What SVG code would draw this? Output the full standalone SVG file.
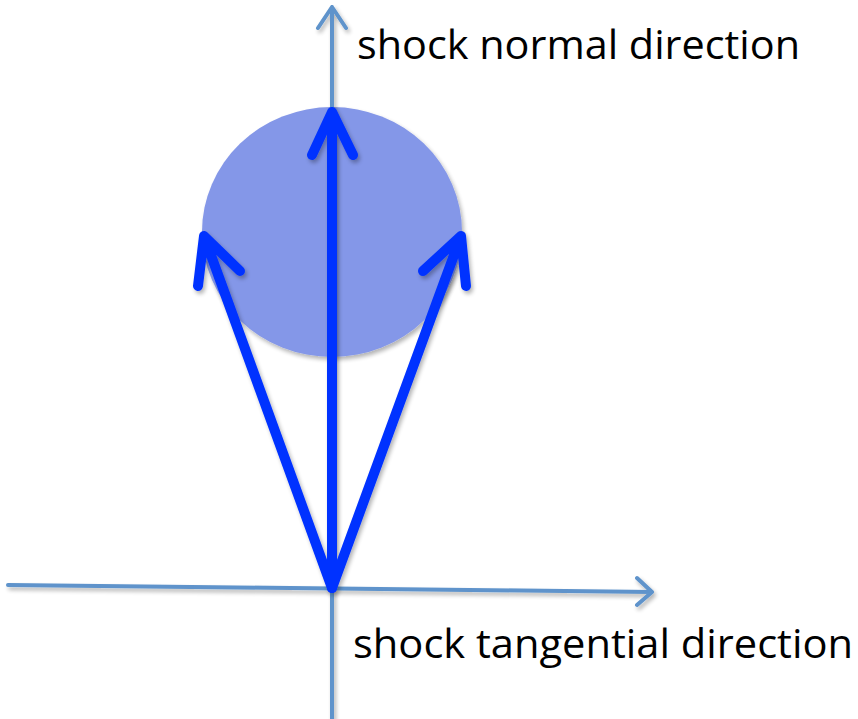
<svg xmlns="http://www.w3.org/2000/svg" width="858" height="719" viewBox="0 0 858 719">
<defs>
<style>
.axis{fill:none;stroke:#5E93CB;stroke-width:4;stroke-linecap:round;stroke-linejoin:round}
.vec{fill:none;stroke:#0433FF;stroke-width:10;stroke-linecap:round;stroke-linejoin:round}
.lbl{font-family:"Open Sans","Liberation Sans",sans-serif;font-size:40px;fill:#000}
</style>
<filter id="sh" x="-10%" y="-10%" width="130%" height="130%">
<feGaussianBlur in="SourceAlpha" stdDeviation="2"/>
<feOffset dx="2" dy="3"/>
<feComponentTransfer><feFuncA type="linear" slope="0.3"/></feComponentTransfer>
<feMerge><feMergeNode/><feMergeNode in="SourceGraphic"/></feMerge>
</filter>
</defs>
<rect width="858" height="719" fill="#fff"/>
<g id="disk">
<ellipse cx="332" cy="232" rx="130" ry="125" fill="#8497E8" filter="url(#sh)"/>
</g>
<g id="connectors">
<g id="axes" filter="url(#sh)">
<path class="axis" d="M332 719 L332 7 M318 28 L332 7 L346 28"/>
<path class="axis" d="M8 585 L652 592 M637 578 L652 592 L637 605"/>
</g>
<g id="vectors" filter="url(#sh)">
<path class="vec" d="M332 588 L332 112 M312 155 L332 112 L353 155"/>
<path class="vec" d="M332 588 L204 236 M198 286 L204 236 L240 271"/>
<path class="vec" d="M332 588 L461 236 M423 271 L461 236 L466 286"/>
</g>
</g>
<g id="labels">
<text class="lbl" x="357" y="59" textLength="443" lengthAdjust="spacingAndGlyphs">shock normal direction</text>
<text class="lbl" x="353" y="658" textLength="500" lengthAdjust="spacingAndGlyphs">shock tangential direction</text>
</g>
</svg>
